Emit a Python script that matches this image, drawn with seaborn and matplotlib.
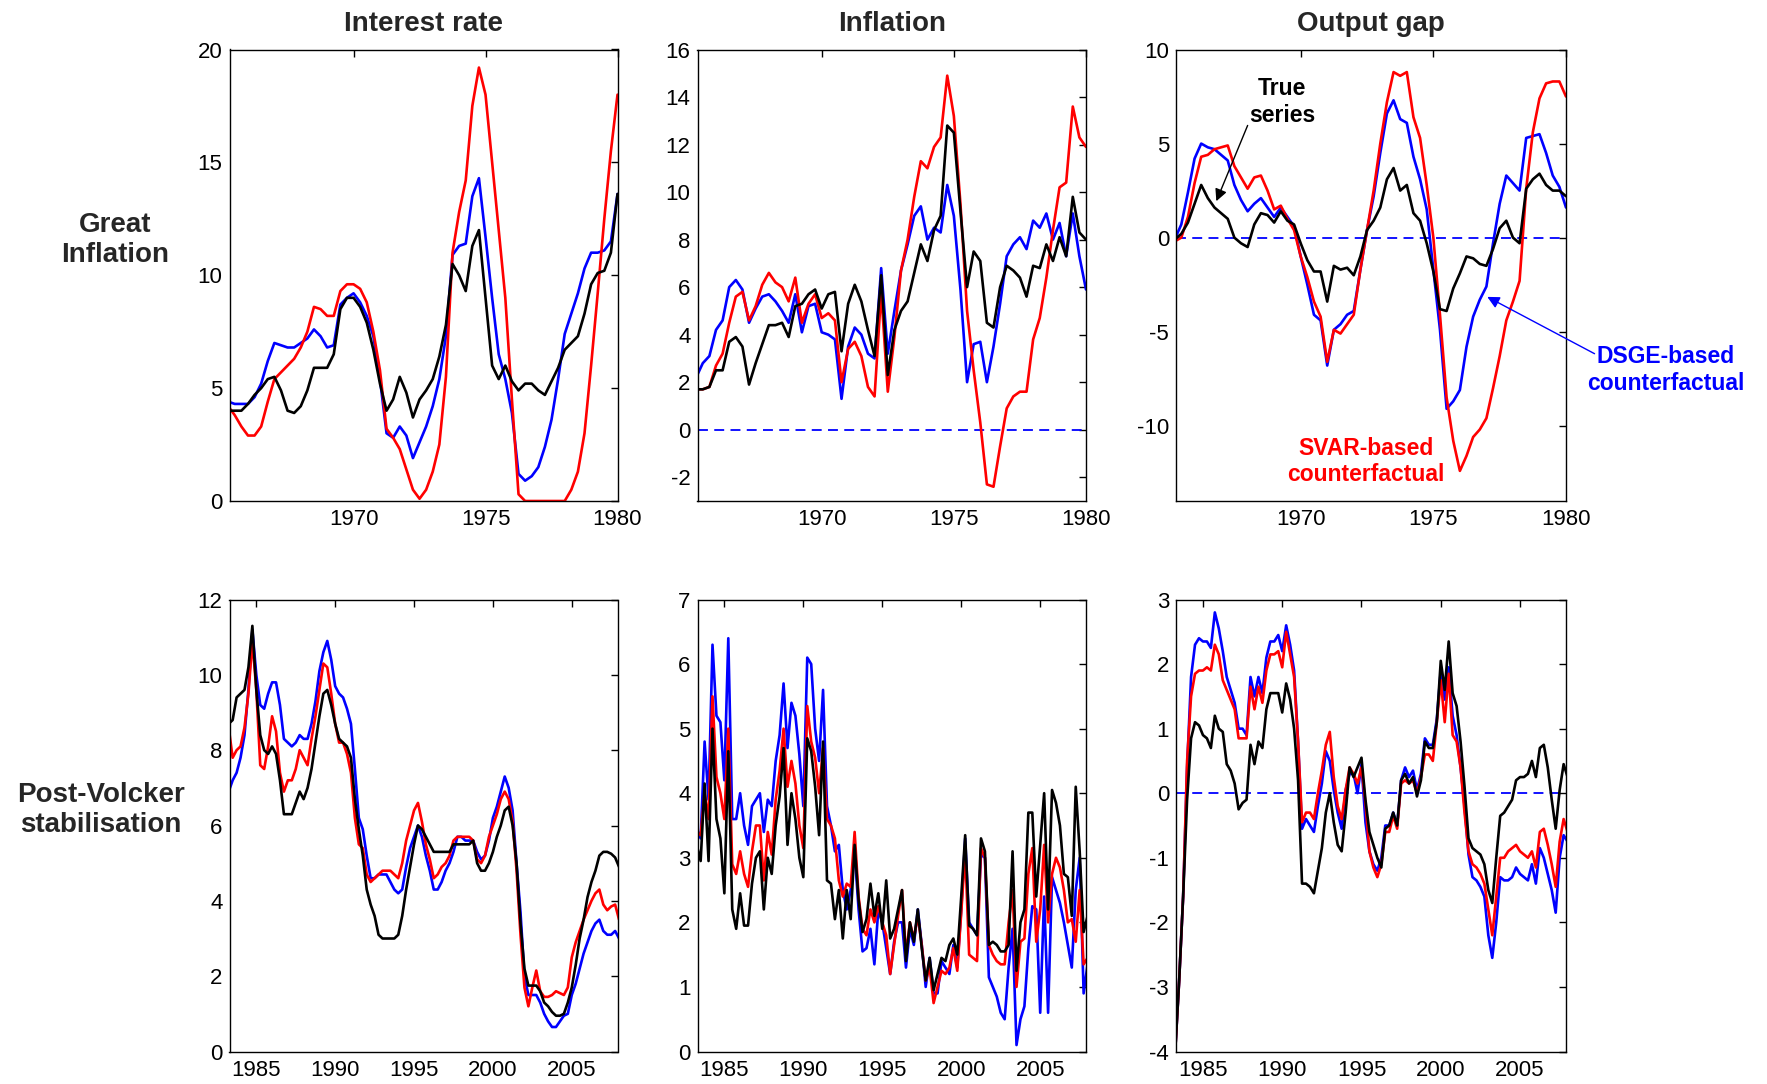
import numpy as np
import pandas as pd
import matplotlib
matplotlib.use("Agg")
import matplotlib.pyplot as plt
import seaborn as sns

# ---------------- data ----------------
top_years = [1965.25 + 0.25 * i for i in range(60)]
bot_years = [1983.25 + 0.25 * i for i in range(100)]

series_names = ["DSGE", "SVAR", "True"]
series_colors = {"DSGE": "#0000ff", "SVAR": "#ff0000", "True": "#000000"}

col_titles = ["Interest rate", "Inflation", "Output gap"]
row_labels = ["Great\nInflation", "Post-Volcker\nstabilisation"]

top_xticks = [1970, 1975, 1980]
bot_xticks = [1985, 1990, 1995, 2000, 2005]

# Great Inflation -- interest rate
gi_rate_true = [4.0, 4.0, 4.0, 4.3, 4.7, 5.0, 5.4, 5.5, 4.9, 4.0, 3.9, 4.2, 4.9, 5.9, 5.9, 5.9, 6.5, 8.5, 9.0, 9.0,
                8.6, 7.9, 6.7, 5.2, 4.0, 4.5, 5.5, 4.8, 3.7, 4.5, 4.9, 5.4, 6.4, 7.8, 10.5, 10.0, 9.3, 11.3, 12.0, 9.0,
                6.0, 5.4, 6.0, 5.3, 4.9, 5.2, 5.2, 4.9, 4.7, 5.3, 5.9, 6.7, 7.0, 7.3, 8.3, 9.6, 10.1, 10.2, 11.0, 13.6]
gi_rate_dsge = [4.4, 4.3, 4.3, 4.3, 4.6, 5.2, 6.2, 7.0, 6.9, 6.8, 6.8, 7.0, 7.2, 7.6, 7.3, 6.8, 6.9, 8.7, 9.0, 9.2,
                8.8, 8.2, 7.3, 5.4, 3.0, 2.8, 3.3, 2.9, 1.9, 2.6, 3.3, 4.2, 5.4, 7.3, 10.9, 11.3, 11.4, 13.5, 14.3, 11.7,
                9.0, 6.5, 5.4, 3.9, 1.2, 0.9, 1.1, 1.5, 2.4, 3.6, 5.4, 7.4, 8.3, 9.2, 10.3, 11.0, 11.0, 11.1, 11.5, 13.6]
gi_rate_svar = [4.2, 3.8, 3.3, 2.9, 2.9, 3.3, 4.4, 5.4, 5.7, 6.0, 6.3, 6.8, 7.5, 8.6, 8.5, 8.2, 8.2, 9.3, 9.6, 9.6,
                9.4, 8.8, 7.5, 5.8, 3.2, 2.8, 2.3, 1.4, 0.5, 0.1, 0.5, 1.3, 2.5, 5.5, 11.0, 12.8, 14.2, 17.5, 19.2, 18.0,
                15.0, 12.0, 9.0, 4.5, 0.3, 0.0, 0.0, 0.0, 0.0, 0.0, 0.0, 0.0, 0.5, 1.3, 3.0, 6.0, 9.2, 12.5, 15.5, 18.0]

# Great Inflation -- inflation
gi_infl_true = [1.7, 1.7, 1.8, 2.5, 2.5, 3.7, 3.9, 3.5, 1.9, 2.8, 3.6, 4.4, 4.4, 4.5, 3.9, 5.2, 5.3, 5.7, 5.9, 5.1,
                5.7, 5.8, 3.3, 5.3, 6.1, 5.4, 4.2, 3.1, 6.5, 2.3, 4.2, 5.0, 5.4, 6.6, 7.8, 7.1, 8.4, 9.0, 12.8, 12.5,
                9.2, 6.0, 7.5, 7.1, 4.5, 4.3, 6.0, 6.9, 6.7, 6.4, 5.6, 6.9, 6.8, 7.8, 7.1, 8.1, 7.3, 9.8, 8.3, 8.0]
gi_infl_dsge = [2.2, 2.8, 3.1, 4.2, 4.6, 6.0, 6.3, 5.9, 4.5, 5.1, 5.6, 5.7, 5.4, 5.0, 4.5, 5.7, 4.1, 5.2, 5.3, 4.1,
                4.0, 3.8, 1.3, 3.5, 4.3, 4.0, 3.2, 3.0, 6.8, 3.2, 5.0, 6.7, 7.8, 9.0, 9.4, 8.0, 8.5, 8.3, 10.3, 9.0,
                5.9, 2.0, 3.6, 3.7, 2.0, 3.5, 5.3, 7.3, 7.8, 8.1, 7.6, 8.8, 8.5, 9.1, 8.0, 8.7, 7.3, 9.1, 7.3, 5.9]
gi_infl_svar = [1.7, 1.7, 1.8, 2.7, 3.2, 4.5, 5.6, 5.8, 4.6, 5.2, 6.1, 6.6, 6.2, 6.0, 5.4, 6.4, 4.5, 5.3, 5.7, 4.7,
                4.9, 4.6, 2.0, 3.4, 3.7, 3.1, 1.8, 1.4, 5.8, 1.6, 3.9, 6.7, 8.0, 9.8, 11.3, 11.0, 11.9, 12.3, 14.9, 13.2,
                9.5, 5.0, 2.5, 0.3, -2.3, -2.4, -0.7, 0.9, 1.4, 1.6, 1.6, 3.8, 4.7, 6.4, 8.4, 10.2, 10.4, 13.6, 12.3, 11.9]

# Great Inflation -- output gap
gi_gap_true = [-0.1, 0.2, 0.8, 1.8, 2.8, 2.1, 1.6, 1.3, 1.0, 0.0, -0.3, -0.5, 0.7, 1.3, 1.2, 0.8, 1.4, 0.9, 0.7, -0.3,
               -1.2, -1.8, -1.8, -3.4, -1.5, -1.7, -1.6, -2.0, -1.0, 0.4, 0.9, 1.6, 3.1, 3.7, 2.5, 2.8, 1.3, 0.9, -0.3, -1.8,
               -3.8, -3.9, -2.7, -1.9, -1.0, -1.1, -1.4, -1.5, -0.6, 0.5, 0.9, 0.0, -0.3, 2.6, 3.1, 3.4, 2.8, 2.5, 2.5, 2.2]
gi_gap_dsge = [-0.1, 0.7, 2.4, 4.2, 5.0, 4.8, 4.7, 4.4, 4.1, 2.8, 2.0, 1.4, 1.8, 2.1, 1.6, 1.1, 1.6, 1.1, 0.6, -1.0,
               -2.5, -4.1, -4.4, -6.8, -4.9, -4.6, -4.1, -3.9, -1.7, 0.4, 2.2, 4.5, 6.6, 7.3, 6.3, 6.1, 4.3, 3.1, 1.5, -1.7,
               -4.9, -9.1, -8.7, -8.1, -5.8, -4.2, -3.3, -2.6, -0.3, 1.8, 3.3, 2.9, 2.5, 5.3, 5.4, 5.5, 4.5, 3.3, 2.7, 1.6]
gi_gap_svar = [-0.2, 0.0, 1.1, 2.9, 4.3, 4.4, 4.7, 4.8, 4.9, 3.8, 3.2, 2.6, 3.2, 3.3, 2.5, 1.5, 1.7, 1.0, 0.4, -1.0,
               -2.1, -3.4, -4.2, -6.6, -4.9, -5.1, -4.6, -4.1, -1.7, 0.4, 2.5, 5.0, 7.2, 8.8, 8.6, 8.8, 6.4, 5.3, 2.8, 0.0,
               -4.1, -8.5, -10.8, -12.4, -11.6, -10.6, -10.2, -9.6, -8.0, -6.3, -4.4, -3.4, -2.3, 2.6, 5.6, 7.4, 8.2, 8.3, 8.3, 7.5]

# Post-Volcker -- interest rate
pv_rate_true = [8.7, 8.8, 9.4, 9.5, 9.6, 10.2, 11.3, 9.6, 8.4, 8.0, 7.9, 8.1, 7.9, 7.2, 6.3, 6.3, 6.3, 6.6, 6.9, 6.7,
                7.0, 7.5, 8.2, 8.9, 9.5, 9.6, 9.2, 8.7, 8.3, 8.2, 8.1, 7.8, 6.7, 5.9, 5.2, 4.3, 3.9, 3.6, 3.1, 3.0,
                3.0, 3.0, 3.0, 3.1, 3.6, 4.3, 4.9, 5.5, 6.0, 5.9, 5.7, 5.5, 5.3, 5.3, 5.3, 5.3, 5.3, 5.5, 5.5, 5.5,
                5.5, 5.5, 5.6, 5.0, 4.8, 4.8, 5.0, 5.3, 5.7, 6.0, 6.4, 6.5, 6.0, 5.0, 3.4, 2.2, 1.75, 1.75, 1.75, 1.6,
                1.3, 1.2, 1.05, 0.95, 0.95, 1.0, 1.3, 1.7, 2.3, 3.0, 3.5, 4.1, 4.5, 4.8, 5.2, 5.3, 5.3, 5.25, 5.15, 4.9]
pv_rate_dsge = [6.9, 7.2, 7.4, 7.8, 8.4, 9.6, 11.2, 10.0, 9.2, 9.1, 9.5, 9.8, 9.8, 9.2, 8.3, 8.2, 8.1, 8.2, 8.4, 8.3,
                8.3, 8.7, 9.3, 10.1, 10.6, 10.9, 10.4, 9.7, 9.5, 9.4, 9.1, 8.7, 7.5, 6.2, 5.9, 5.2, 4.6, 4.6, 4.7, 4.7,
                4.7, 4.5, 4.3, 4.2, 4.3, 4.9, 5.4, 5.7, 6.0, 5.7, 5.2, 4.8, 4.3, 4.3, 4.5, 4.8, 5.0, 5.3, 5.7, 5.7,
                5.6, 5.6, 5.6, 5.3, 5.1, 5.2, 5.6, 6.2, 6.5, 6.9, 7.3, 7.0, 6.4, 5.0, 3.7, 2.0, 1.5, 1.5, 1.5, 1.3,
                1.0, 0.8, 0.65, 0.65, 0.8, 0.95, 1.0, 1.5, 1.8, 2.2, 2.6, 2.9, 3.2, 3.4, 3.5, 3.2, 3.1, 3.1, 3.2, 3.0]
pv_rate_svar = [8.6, 7.8, 8.0, 8.1, 8.6, 9.5, 10.9, 9.6, 7.6, 7.5, 8.1, 8.9, 8.5, 7.4, 6.9, 7.2, 7.2, 7.5, 8.0, 7.8,
                7.6, 8.3, 8.9, 9.6, 10.3, 10.2, 9.5, 8.7, 8.2, 8.2, 7.9, 7.4, 6.2, 5.5, 5.4, 4.7, 4.5, 4.6, 4.7, 4.8,
                4.8, 4.8, 4.7, 4.6, 5.0, 5.6, 6.0, 6.4, 6.6, 6.1, 5.5, 5.1, 4.6, 4.7, 4.9, 5.0, 5.2, 5.6, 5.7, 5.7,
                5.7, 5.7, 5.6, 5.1, 5.0, 5.2, 5.7, 6.0, 6.3, 6.7, 6.9, 6.7, 6.1, 4.8, 3.1, 1.7, 1.2, 1.7, 2.15, 1.6,
                1.45, 1.45, 1.5, 1.6, 1.55, 1.5, 1.7, 2.5, 2.9, 3.2, 3.5, 3.75, 4.0, 4.2, 4.3, 3.9, 3.75, 3.85, 3.9, 3.5]

# Post-Volcker -- inflation
pv_infl_true = [3.2, 2.95, 4.15, 2.95, 5.0, 3.6, 3.3, 2.45, 4.65, 2.2, 1.9, 2.45, 1.95, 1.95, 2.6, 3.0, 3.1, 2.2, 3.0, 2.75,
                3.5, 3.95, 4.7, 3.2, 4.0, 3.6, 3.0, 2.7, 4.85, 4.65, 4.1, 3.35, 4.8, 2.65, 2.6, 2.05, 2.5, 1.75, 2.5, 2.05,
                3.2, 2.35, 1.85, 2.05, 2.6, 2.1, 2.45, 1.9, 2.65, 1.75, 1.9, 2.2, 2.5, 1.4, 2.0, 1.7, 2.2, 1.6, 1.1, 1.45,
                0.95, 1.2, 1.45, 1.4, 1.65, 1.75, 1.5, 2.4, 3.35, 1.95, 1.9, 1.8, 3.3, 3.1, 1.65, 1.7, 1.65, 1.55, 1.55, 1.65,
                3.1, 1.25, 2.0, 2.2, 3.7, 3.7, 2.4, 3.2, 4.0, 2.2, 4.05, 3.85, 3.5, 2.75, 2.7, 2.1, 4.1, 3.1, 1.85, 2.1]
pv_infl_dsge = [3.45, 3.3, 4.8, 3.9, 6.3, 5.2, 5.1, 4.2, 6.4, 3.6, 3.6, 4.0, 3.5, 3.2, 3.8, 3.9, 4.0, 3.4, 3.9, 3.8,
                4.5, 4.9, 5.7, 4.7, 5.4, 5.2, 4.6, 3.8, 6.1, 6.0, 5.0, 4.5, 5.6, 3.8, 3.5, 3.1, 3.2, 2.5, 2.2, 2.5,
                3.1, 2.2, 1.55, 1.6, 1.9, 1.35, 2.2, 2.0, 1.6, 1.2, 1.7, 2.0, 2.0, 1.3, 1.9, 1.65, 2.2, 1.65, 1.0, 1.45,
                0.9, 0.9, 1.4, 1.3, 1.2, 1.65, 1.3, 2.2, 3.3, 2.0, 1.9, 1.8, 3.05, 3.0, 1.15, 1.0, 0.85, 0.6, 0.5, 1.3,
                1.9, 0.1, 0.5, 0.7, 1.6, 2.25, 2.2, 0.6, 2.4, 0.6, 2.7, 2.5, 2.3, 2.0, 1.65, 1.3, 2.5, 3.0, 0.9, 1.35]
pv_infl_svar = [3.4, 3.35, 4.0, 3.6, 5.5, 4.25, 4.0, 3.6, 5.0, 2.9, 2.75, 3.1, 2.75, 2.55, 3.1, 3.5, 3.5, 2.65, 3.4, 3.05,
                3.9, 4.35, 5.0, 4.1, 4.5, 4.15, 3.5, 3.15, 5.35, 4.8, 4.55, 4.0, 4.7, 3.6, 3.5, 3.3, 2.65, 2.4, 2.6, 2.55,
                3.4, 2.4, 1.9, 1.8, 2.2, 2.0, 2.25, 2.0, 1.8, 1.2, 1.65, 2.1, 2.5, 1.5, 2.0, 1.75, 2.1, 1.65, 1.1, 1.3,
                0.75, 1.0, 1.25, 1.2, 1.3, 1.6, 1.25, 2.15, 3.1, 1.5, 1.45, 1.4, 3.15, 3.0, 1.65, 1.5, 1.4, 1.35, 1.35, 2.0,
                2.5, 1.0, 1.7, 1.75, 2.75, 3.15, 1.7, 2.2, 3.2, 2.0, 2.75, 3.0, 2.85, 2.5, 2.0, 2.05, 1.7, 2.5, 1.35, 1.45]

# Post-Volcker -- output gap
pv_gap_true = [-4.0, -2.9, -1.6, -0.1, 0.85, 1.1, 1.05, 0.9, 0.85, 0.7, 1.2, 1.0, 0.95, 0.45, 0.35, 0.15, -0.25, -0.15, -0.1, 0.75,
               0.45, 0.8, 0.7, 1.3, 1.55, 1.55, 1.55, 1.25, 1.7, 1.45, 1.0, 0.2, -1.4, -1.4, -1.45, -1.55, -1.2, -0.85, -0.3, 0.0,
               -0.45, -0.8, -0.9, -0.3, 0.4, 0.25, 0.4, 0.55, -0.1, -0.6, -0.8, -1.0, -1.15, -0.55, -0.5, -0.3, -0.5, 0.2, 0.3, 0.15,
               0.25, -0.05, 0.2, 0.8, 0.7, 0.7, 1.1, 2.05, 1.6, 2.35, 1.55, 1.35, 0.8, 0.1, -0.7, -0.85, -0.9, -0.95, -1.1, -1.5,
               -1.7, -1.0, -0.35, -0.3, -0.2, -0.1, 0.2, 0.25, 0.25, 0.3, 0.5, 0.25, 0.7, 0.75, 0.4, -0.1, -0.55, 0.05, 0.45, 0.25]
pv_gap_dsge = [-4.0, -2.9, -1.6, 0.4, 1.8, 2.3, 2.4, 2.35, 2.35, 2.25, 2.8, 2.55, 2.2, 1.8, 1.6, 1.4, 1.0, 1.0, 0.9, 1.8,
               1.5, 1.8, 1.55, 2.1, 2.35, 2.35, 2.45, 2.2, 2.6, 2.3, 1.9, 0.8, -0.55, -0.4, -0.5, -0.6, -0.2, 0.15, 0.65, 0.5,
               0.05, -0.3, -0.55, 0.05, 0.3, 0.3, 0.0, 0.45, -0.45, -0.9, -1.1, -1.2, -1.0, -0.5, -0.5, -0.3, -0.5, 0.2, 0.4, 0.25,
               0.35, 0.05, 0.3, 0.85, 0.75, 0.75, 1.15, 1.9, 1.45, 1.95, 1.2, 0.9, 0.4, -0.2, -0.95, -1.3, -1.35, -1.45, -1.6, -2.2,
               -2.55, -2.0, -1.3, -1.35, -1.35, -1.3, -1.15, -1.25, -1.3, -1.35, -1.1, -1.4, -0.85, -1.0, -1.25, -1.5, -1.85, -1.0, -0.65, -0.75]
pv_gap_svar = [-4.0, -2.9, -1.6, 0.5, 1.5, 1.85, 1.9, 1.9, 1.95, 1.9, 2.3, 2.15, 1.75, 1.6, 1.45, 1.3, 0.85, 0.85, 0.85, 1.65,
               1.3, 1.65, 1.4, 1.9, 2.15, 2.15, 2.2, 1.95, 2.5, 2.15, 1.8, 0.8, -0.45, -0.3, -0.3, -0.4, 0.0, 0.35, 0.75, 0.95,
               0.25, -0.2, -0.4, 0.05, 0.4, 0.3, 0.15, 0.4, -0.15, -0.9, -1.15, -1.3, -1.1, -0.6, -0.6, -0.35, -0.55, 0.15, 0.2, 0.15,
               0.2, 0.0, 0.25, 0.6, 0.6, 0.5, 1.1, 1.75, 1.1, 1.85, 0.9, 0.8, 0.4, -0.3, -0.9, -1.1, -1.15, -1.25, -1.4, -1.8,
               -2.2, -1.6, -1.0, -1.0, -0.9, -0.85, -0.8, -0.9, -0.95, -1.0, -0.9, -1.15, -0.6, -0.55, -0.8, -1.1, -1.45, -0.75, -0.4, -0.6]

# ---------------- style ----------------
sns.set_style("white")
plt.rcParams["font.family"] = ["Liberation Sans", "DejaVu Sans"]
plt.rcParams["axes.linewidth"] = 1.0
plt.rcParams["axes.unicode_minus"] = False

W, H = 1767, 1084
fig = plt.figure(figsize=(W / 100, H / 100), dpi=100)

col_px = [(229.5, 617.5), (697.5, 1086.0), (1176.0, 1566.0)]
row_px = [(49.5, 501.0), (599.5, 1051.5)]


def make_axes(r, c):
    x0, x1 = col_px[c]
    y0, y1 = row_px[r]
    return fig.add_axes([x0 / W, 1 - y1 / H, (x1 - x0) / W, (y1 - y0) / H])


panels = [
    (0, 0, top_years, gi_rate_dsge, gi_rate_svar, gi_rate_true, (0, 20), [0, 5, 10, 15, 20], False),
    (0, 1, top_years, gi_infl_dsge, gi_infl_svar, gi_infl_true, (-3, 16), list(range(-2, 17, 2)), True),
    (0, 2, top_years, gi_gap_dsge, gi_gap_svar, gi_gap_true, (-14, 10), [-10, -5, 0, 5, 10], True),
    (1, 0, bot_years, pv_rate_dsge, pv_rate_svar, pv_rate_true, (0, 12), list(range(0, 13, 2)), False),
    (1, 1, bot_years, pv_infl_dsge, pv_infl_svar, pv_infl_true, (0, 7), list(range(0, 8)), False),
    (1, 2, bot_years, pv_gap_dsge, pv_gap_svar, pv_gap_true, (-4, 3), list(range(-4, 4)), True),
]

axes = {}
for r, c, yrs, dsge, svar, true, ylim, yticks, zero in panels:
    ax = make_axes(r, c)
    axes[(r, c)] = ax
    df = pd.DataFrame({
        "year": list(yrs) * 3,
        "value": list(dsge) + list(svar) + list(true),
        "series": ["DSGE"] * len(yrs) + ["SVAR"] * len(yrs) + ["True"] * len(yrs),
    })
    sns.lineplot(data=df, x="year", y="value", hue="series", hue_order=series_names,
                 palette=series_colors, estimator=None, sort=False, linewidth=1.9,
                 legend=False, ax=ax)
    if zero:
        ax.axhline(0, color="#0000ff", lw=1.3, ls=(0, (5.5, 3.5)), zorder=1)
    ax.set_ylim(*ylim)
    ax.set_yticks(yticks)
    if r == 0:
        ax.set_xlim(1965.3, 1980.0)
        ax.set_xticks(top_xticks)
    else:
        ax.set_xlim(1983.3, 2007.9)
        ax.set_xticks(bot_xticks)
    ax.set_xlabel("")
    ax.set_ylabel("")
    ax.tick_params(direction="in", top=True, right=True, length=5, width=1.0,
                   labelsize=16, pad=5, colors="black")
    ax.tick_params(axis="x", pad=6)
    for s in ax.spines.values():
        s.set_visible(True)
        s.set_color("black")
        s.set_linewidth(1.0)

# column titles
for c, t in enumerate(col_titles):
    x0, x1 = col_px[c]
    fig.text((x0 + x1) / 2 / W, 1 - 24 / H, t, ha="center", va="center",
             fontsize=20, fontweight="bold")

# row labels
fig.text(115 / W, 1 - 240 / H, row_labels[0], ha="center", va="center",
         fontsize=20, fontweight="bold", linespacing=1.2, multialignment="center")
fig.text(101 / W, 1 - 810 / H, row_labels[1], ha="center", va="center",
         fontsize=20, fontweight="bold", linespacing=1.2, multialignment="center")

# annotations in the output-gap panel
ax = axes[(0, 2)]
ax.text(1969.3, 7.2, "True\nseries", ha="center", va="center", fontsize=16.5,
        fontweight="bold", color="black", linespacing=1.25)
ax.annotate("", xy=(1966.78, 1.8), xytext=(1968.04, 6.1),
            arrowprops=dict(arrowstyle="-|>", color="black", lw=1.0, mutation_scale=18))
ax.text(1972.47, -11.9, "SVAR-based\ncounterfactual", ha="center", va="center",
        fontsize=16.5, fontweight="bold", color="#ff0000", linespacing=1.2)
ax.annotate("", xy=(1976.94, -3.08), xycoords="data",
            xytext=(1597 / W, 1 - 355 / H), textcoords="figure fraction",
            arrowprops=dict(arrowstyle="-|>", color="#0000ff", lw=1.0, mutation_scale=18),
            annotation_clip=False)
fig.text(1666 / W, 1 - 370 / H, "DSGE-based\ncounterfactual", ha="center", va="center",
         fontsize=16.5, fontweight="bold", color="#0000ff", linespacing=1.25)

fig.savefig("out.png", dpi=100)
